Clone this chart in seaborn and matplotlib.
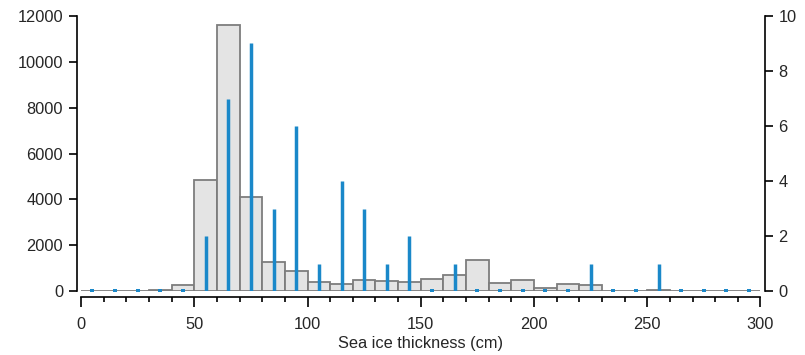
import numpy as np
import pandas as pd
import matplotlib
matplotlib.use("Agg")
import matplotlib.pyplot as plt
import seaborn as sns

# Histogram of sea ice thickness (10 cm bins, 0-300 cm), left axis counts
bin_edges = list(range(0, 310, 10))
hist_counts = [10, 10, 10, 30, 250, 4840, 11600, 4100, 1265, 886,
               410, 305, 505, 436, 410, 523, 684, 1345, 355, 470,
               150, 320, 262, 10, 10, 40, 10, 10, 10, 10]
# Stem counts at bin centres, right axis
stem_x = [5, 15, 25, 35, 45, 55, 65, 75, 85, 95, 105, 115, 125, 135, 145,
          155, 165, 175, 185, 195, 205, 215, 225, 235, 245, 255, 265, 275,
          285, 295]
stem_vals = [0, 0, 0, 0, 0, 2, 7, 9, 3, 6, 1, 4, 3, 1, 2,
             0, 1, 0, 0, 0, 0, 0, 1, 0, 0, 1, 0, 0, 0, 0]
xticks = [0, 50, 100, 150, 200, 250, 300]
left_ticks = [0, 2000, 4000, 6000, 8000, 10000, 12000]
right_ticks = [0, 2, 4, 6, 8, 10]
xlabel = "Sea ice thickness (cm)"

sns.set_style("ticks")
plt.rcParams['font.family'] = ['Liberation Sans', 'DejaVu Sans']
FS = 11.8
TXT = "#262626"

fig = plt.figure(figsize=(8.05, 3.55), dpi=100)
ax = fig.add_axes([0.0957, 0.180, 0.854, 0.775])

centers = [(bin_edges[i] + bin_edges[i + 1]) / 2 for i in range(len(hist_counts))]
df = pd.DataFrame({"thickness": centers, "count": hist_counts})
sns.histplot(data=df, x="thickness", weights="count", bins=bin_edges, ax=ax,
             color="#e4e4e4", edgecolor="#7d7d7d", linewidth=1.3, alpha=1)

ax.set_xlim(-1.8, 301.8)
ax.set_ylim(0, 12000)
ax.set_yticks(left_ticks)
ax.set_xticks(xticks)
ax.set_xticks(list(range(0, 301, 10)), minor=True)
ax.set_xlabel(xlabel, fontsize=FS, labelpad=3, color=TXT)
ax.set_ylabel("")
ax.spines["top"].set_visible(False)
ax.spines["right"].set_visible(False)
ax.spines["left"].set_bounds(0, 12000)
ax.spines["bottom"].set_bounds(0, 300)
ax.spines["bottom"].set_position(("outward", 4))
for s in ["left", "bottom"]:
    ax.spines[s].set_linewidth(1.2)
    ax.spines[s].set_color("black")
ax.tick_params(axis="y", which="major", length=6, width=1.2, pad=4, labelsize=FS, color="black", labelcolor=TXT)
ax.tick_params(axis="x", which="major", length=7.5, width=1.2, pad=7, labelsize=FS, color="black", labelcolor=TXT)
ax.tick_params(axis="x", which="minor", length=3.8, width=1.2, color="black")

ax2 = ax.twinx()
ax2.set_ylim(0, 10)
sx = np.array(stem_x)
sv = np.array(stem_vals)
ax2.vlines(sx[sv > 0], 0, sv[sv > 0], color="#1a88c9", linewidth=2.5)
ax2.scatter(sx[sv == 0], sv[sv == 0], marker="s", s=5, color="#1a88c9", linewidths=0, zorder=3)
ax2.set_yticks(right_ticks)
for s in ["top", "left", "bottom"]:
    ax2.spines[s].set_visible(False)
ax2.spines["right"].set_bounds(0, 10)
ax2.spines["right"].set_linewidth(1.2)
ax2.spines["right"].set_color("black")
ax2.tick_params(axis="y", length=6, width=1.2, pad=4, labelsize=FS, color="black", labelcolor=TXT)
ax2.set_ylabel("")

fig.savefig("out.png", dpi=100)
